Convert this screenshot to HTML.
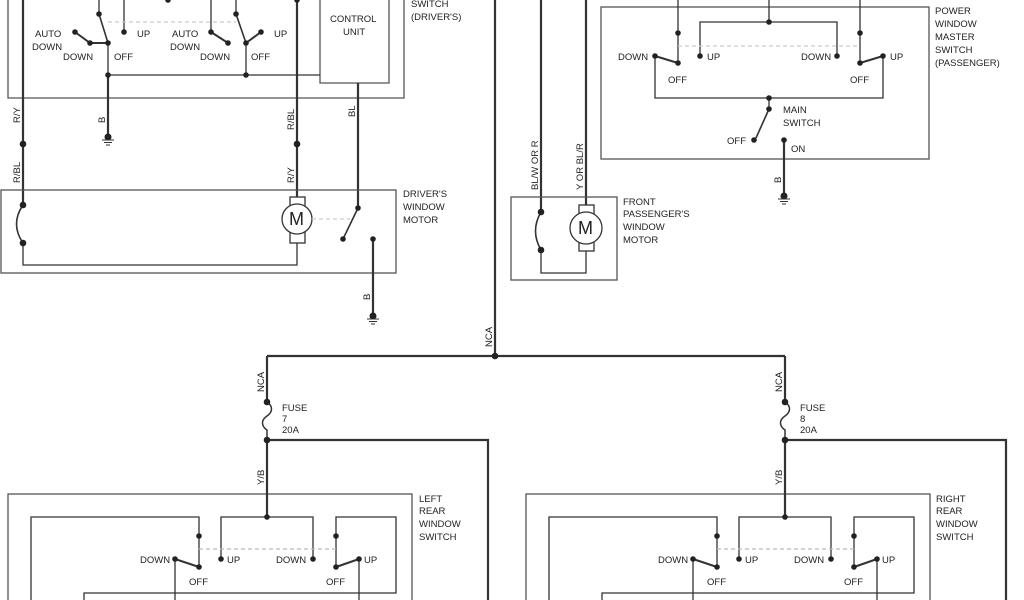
<!DOCTYPE html>
<html><head><meta charset="utf-8"><style>
html,body{margin:0;padding:0;background:#fff;width:1024px;height:600px;overflow:hidden}
svg{display:block}
text{font-family:"Liberation Sans",sans-serif;font-size:9.5px;fill:#222}
</style></head><body>
<svg width="1024" height="600" viewBox="0 0 1024 600" xmlns="http://www.w3.org/2000/svg">
<defs>
<g id="gnd"><circle cx="0" cy="0" r="3.5" fill="#222"/><line x1="-6" y1="3" x2="6" y2="3" stroke="#333" stroke-width="1"/><line x1="-4" y1="5.5" x2="4" y2="5.5" stroke="#333"/><line x1="-2" y1="8" x2="2" y2="8" stroke="#333"/></g>
<g id="rear">
<rect x="8" y="494" width="404" height="120" fill="none" stroke="#555" stroke-width="1.3"/>
<g fill="none" stroke="#333" stroke-width="1.3">
<polyline points="31,610 31,517 199,517 199,567"/>
<polyline points="221,559 221,517 313,517 313,559"/>
<polyline points="336,567 336,517 396,517 396,593 84,593 84,610"/>
<line x1="267" y1="440" x2="267" y2="517" stroke-width="2.2"/>
<polyline points="267,440 488,440 488,610" stroke-width="2.2"/>
<line x1="175" y1="559" x2="175" y2="610"/>
<line x1="359" y1="559" x2="359" y2="610"/>
<line x1="175" y1="559" x2="199" y2="567" stroke-width="2"/>
<line x1="336" y1="567" x2="359" y2="559" stroke-width="2"/>
<line x1="199" y1="549" x2="336" y2="549" stroke="#bbb" stroke-dasharray="4,3"/>
<path d="M267,402 c6,4 6,10 0,14 c-6,4 -6,10 0,14 L267,440" stroke-width="1.5"/>
<line x1="267" y1="356" x2="267" y2="402" stroke-width="2.2"/>
</g>
<g fill="#222"><circle cx="199" cy="536" r="2.8"/><circle cx="199" cy="567" r="2.8"/><circle cx="221" cy="559" r="2.8"/><circle cx="313" cy="559" r="2.8"/><circle cx="336" cy="536" r="2.8"/><circle cx="336" cy="567" r="2.8"/><circle cx="175" cy="559" r="2.8"/><circle cx="359" cy="559" r="2.8"/><circle cx="267" cy="517" r="2.8"/><circle cx="267" cy="402" r="3.3"/><circle cx="267" cy="440" r="3.3"/></g>
<text x="140" y="563">DOWN</text><text x="227" y="563">UP</text><text x="276" y="563">DOWN</text><text x="364" y="563">UP</text>
<text x="189" y="585">OFF</text><text x="326" y="585">OFF</text>
<text x="282" y="411">FUSE</text><text x="282" y="433">20A</text>
<text transform="translate(264,392) rotate(-90)">NCA</text>
<text transform="translate(264,485) rotate(-90)">Y/B</text>
</g>
</defs>
<g fill="none" stroke="#333" stroke-width="1.3">
<polyline points="8,-5 8,98 404,98 404,-5" stroke="#555"/>
<polyline points="320,-5 320,83 389,83 389,-5" stroke="#555"/>
<line x1="99" y1="-5" x2="99" y2="14"/>
<line x1="99" y1="14" x2="108" y2="43" stroke-width="1.6"/>
<polyline points="75,32 90,43 108,43" stroke-width="2"/>
<line x1="124" y1="-5" x2="124" y2="32"/>
<line x1="108" y1="43" x2="108" y2="75"/>
<line x1="108" y1="75" x2="320" y2="75"/>
<line x1="108" y1="75" x2="108" y2="137" stroke-width="2.2"/>
<line x1="211" y1="-5" x2="211" y2="32"/>
<line x1="211" y1="32" x2="228" y2="43" stroke-width="2"/>
<line x1="236" y1="-5" x2="236" y2="14"/>
<line x1="236" y1="14" x2="246" y2="43" stroke-width="1.6"/>
<line x1="246" y1="43" x2="261" y2="32" stroke-width="2"/>
<line x1="246" y1="43" x2="246" y2="75"/>
<line x1="108" y1="22" x2="236" y2="22" stroke="#ccc" stroke-dasharray="4,3"/>
<line x1="23" y1="-5" x2="23" y2="205" stroke-width="2.2"/>
<line x1="297" y1="-5" x2="297" y2="197" stroke-width="2.2"/>
<line x1="358" y1="83" x2="358" y2="208" stroke-width="2.2"/>
<rect x="1" y="190" width="395" height="83" stroke="#555"/>
<rect x="290" y="197" width="15" height="46" fill="#fff"/>
<circle cx="297" cy="219" r="15" fill="#fff"/>
<polyline points="297,243 297,265 23,265 23,243"/>
<path d="M23,205 Q10,224 23,243" stroke-width="1.6"/>
<line x1="358" y1="208" x2="343" y2="239" stroke-width="1.6"/>
<line x1="312" y1="219" x2="350" y2="219" stroke="#ccc" stroke-dasharray="4,3"/>
<line x1="373" y1="239" x2="373" y2="316" stroke-width="2.2"/>
<line x1="495" y1="-5" x2="495" y2="356" stroke-width="2.2"/>
<line x1="267" y1="356" x2="785" y2="356" stroke-width="2.2"/>
<line x1="541" y1="-5" x2="541" y2="212" stroke-width="2.2"/>
<line x1="586" y1="-5" x2="586" y2="205" stroke-width="2.2"/>
<rect x="511" y="197" width="106" height="83" stroke="#555"/>
<rect x="579" y="205" width="15" height="46" fill="#fff"/>
<circle cx="586" cy="228" r="16" fill="#fff"/>
<polyline points="586,251 586,273 541,273 541,250"/>
<path d="M541,212 Q530,231 541,250" stroke-width="1.6"/>
<rect x="601" y="7" width="328" height="152" stroke="#555"/>
<line x1="678" y1="-5" x2="678" y2="63"/>
<line x1="769" y1="-5" x2="769" y2="22"/>
<polyline points="700,56 700,22 837,22 837,56"/>
<line x1="860" y1="-5" x2="860" y2="63"/>
<line x1="655" y1="56" x2="678" y2="63" stroke-width="2"/>
<line x1="860" y1="63" x2="883" y2="56" stroke-width="2"/>
<line x1="678" y1="46" x2="860" y2="46" stroke="#ccc" stroke-dasharray="4,3"/>
<polyline points="655,56 655,98 883,98 883,56"/>
<line x1="769" y1="98" x2="769" y2="109"/>
<line x1="769" y1="109" x2="756" y2="138" stroke-width="1.6"/>
<line x1="784" y1="140" x2="784" y2="196" stroke-width="2.2"/>
</g>
<g fill="#222">
<circle cx="99" cy="14" r="2.8"/><circle cx="108" cy="43" r="2.8"/><circle cx="75" cy="32" r="2.8"/><circle cx="90" cy="43" r="2.8"/><circle cx="124" cy="32" r="2.8"/><circle cx="108" cy="75" r="2.8"/>
<circle cx="168" cy="0" r="2.8"/><circle cx="211" cy="32" r="2.8"/><circle cx="228" cy="43" r="2.8"/><circle cx="236" cy="14" r="2.8"/><circle cx="246" cy="43" r="2.8"/><circle cx="261" cy="32" r="2.8"/><circle cx="246" cy="75" r="2.8"/><circle cx="297" cy="0" r="2.8"/>
<circle cx="23" cy="144" r="3.3"/><circle cx="297" cy="144" r="3.3"/><circle cx="23" cy="205" r="3.3"/><circle cx="23" cy="243" r="3.3"/>
<circle cx="358" cy="208" r="2.8"/><circle cx="343" cy="239" r="2.8"/><circle cx="373" cy="239" r="2.8"/>
<circle cx="495" cy="356" r="3.3"/>
<circle cx="541" cy="212" r="3.3"/><circle cx="541" cy="250" r="3.3"/>
<circle cx="678" cy="33" r="2.8"/><circle cx="678" cy="63" r="2.8"/><circle cx="655" cy="56" r="2.8"/><circle cx="700" cy="56" r="2.8"/><circle cx="769" cy="22" r="2.8"/><circle cx="837" cy="56" r="2.8"/><circle cx="860" cy="33" r="2.8"/><circle cx="860" cy="63" r="2.8"/><circle cx="883" cy="56" r="2.8"/><circle cx="769" cy="98" r="2.8"/><circle cx="769" cy="109" r="2.8"/><circle cx="754" cy="140" r="2.8"/><circle cx="784" cy="140" r="2.8"/>
</g>
<use href="#gnd" x="108" y="137"/><use href="#gnd" x="373" y="316"/><use href="#gnd" x="784" y="196"/>
<text x="289" y="225" style="font-size:18px">M</text><text x="578" y="234" style="font-size:18px">M</text>
<text x="35" y="37">AUTO</text><text x="32" y="50">DOWN</text><text x="63" y="60">DOWN</text><text x="114" y="60">OFF</text><text x="137" y="37">UP</text>
<text x="172" y="37">AUTO</text><text x="170" y="50">DOWN</text><text x="200" y="60">DOWN</text><text x="251" y="60">OFF</text><text x="274" y="37">UP</text>
<text x="330" y="22">CONTROL</text><text x="343" y="35">UNIT</text>
<text x="411" y="7">SWITCH</text><text x="411" y="20">(DRIVER'S)</text>
<text x="403" y="197">DRIVER'S</text><text x="403" y="210">WINDOW</text><text x="403" y="223">MOTOR</text>
<text x="623" y="205">FRONT</text><text x="623" y="217">PASSENGER'S</text><text x="623" y="230">WINDOW</text><text x="623" y="243">MOTOR</text>
<text x="935" y="14">POWER</text><text x="935" y="27">WINDOW</text><text x="935" y="40">MASTER</text><text x="935" y="53">SWITCH</text><text x="935" y="66">(PASSENGER)</text>
<text x="618" y="60">DOWN</text><text x="707" y="60">UP</text><text x="801" y="60">DOWN</text><text x="890" y="60">UP</text>
<text x="668" y="83">OFF</text><text x="850" y="83">OFF</text>
<text x="783" y="113">MAIN</text><text x="783" y="126">SWITCH</text><text x="727" y="144">OFF</text><text x="791" y="152">ON</text>
<g>
<text transform="translate(20,123) rotate(-90)">R/Y</text>
<text transform="translate(20,183) rotate(-90)">R/BL</text>
<text transform="translate(105,123) rotate(-90)">B</text>
<text transform="translate(294,130) rotate(-90)">R/BL</text>
<text transform="translate(294,183) rotate(-90)">R/Y</text>
<text transform="translate(355,117) rotate(-90)">BL</text>
<text transform="translate(370,300) rotate(-90)">B</text>
<text transform="translate(492,347) rotate(-90)">NCA</text>
<text transform="translate(538,190) rotate(-90)">BL/W OR R</text>
<text transform="translate(583,190) rotate(-90)">Y OR BL/R</text>
<text transform="translate(781,183) rotate(-90)">B</text>
</g>
<use href="#rear"/>
<text x="282" y="422">7</text>
<text x="419" y="502">LEFT</text><text x="419" y="514">REAR</text><text x="419" y="527">WINDOW</text><text x="419" y="540">SWITCH</text>
<use href="#rear" x="518"/>
<text x="800" y="422">8</text>
<text x="936" y="502">RIGHT</text><text x="936" y="514">REAR</text><text x="936" y="527">WINDOW</text><text x="936" y="540">SWITCH</text>
</svg>
</body></html>
